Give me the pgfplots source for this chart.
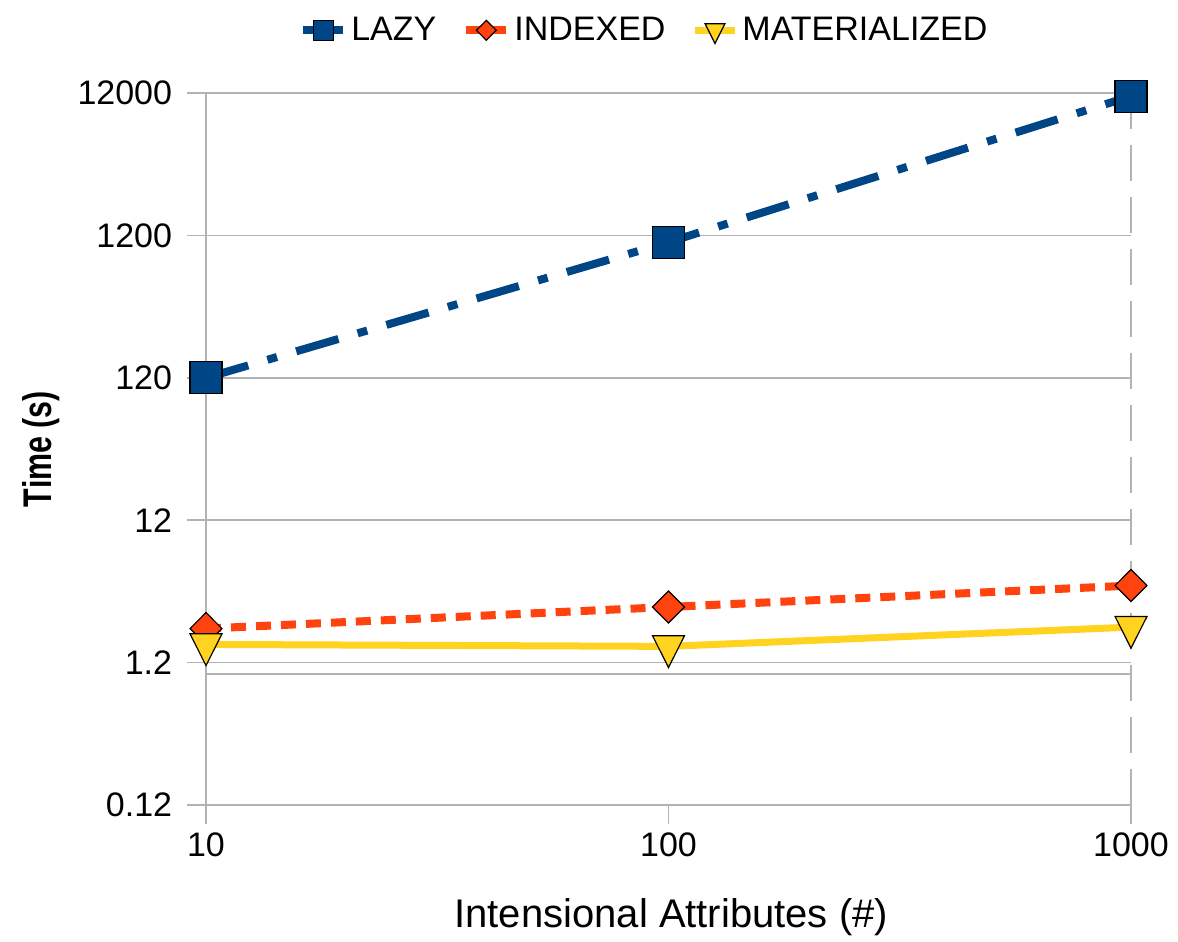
\documentclass[border=0pt]{standalone}
\usepackage{pgfplots}
\pgfplotsset{compat=1.18}
\usepackage{fontspec}
\setmainfont{Liberation Sans}
\definecolor{lazyc}{HTML}{004586}
\definecolor{indc}{HTML}{FF420E}
\definecolor{matc}{HTML}{FFD320}
\definecolor{gridc}{HTML}{B3B3B3}
\begin{document}
\begin{tikzpicture}
\useasboundingbox (-103pt,-68.5pt) rectangle (486pt,402.5pt);
\begin{axis}[
  scale only axis, width=462.5pt, height=356pt,
  at={(0,0)}, anchor=south west,
  xmode=log, ymode=log,
  xmin=10, xmax=1000, ymin=0.12, ymax=12000,
  xtick={10,100,1000}, xticklabels={10,100,1000},
  ytick={0.12,1.2,12,120,1200,12000},
  yticklabels={0.12,1.2,12,120,1200,12000},
  minor tick length=0pt,
  axis y line=left, axis x line=bottom,
  y axis line style={-, draw=gridc, line width=0.8pt},
  x axis line style={-, draw=none},
  tick align=outside,
  major tick length=9.5pt,
  tick style={draw=gridc, line width=0.8pt},
  ymajorgrids,
  major grid style={draw=gridc, line width=0.8pt},
  extra x ticks={1000}, extra x tick labels={},
  extra x tick style={grid=major, major grid style={draw=gridc, line width=0.8pt, dash pattern=on 18pt off 8pt}},
  extra y ticks={1}, extra y tick labels={},
  extra y tick style={grid=major, major tick length=0pt},
  ticklabel style={font=\fontsize{17}{20}\selectfont},
  yticklabel style={xshift=-4pt},
  xticklabel style={yshift=-1pt},
  xlabel={Intensional Attributes (\#)},
  ylabel={Time (s)},
  xlabel style={at={(axis description cs:0.503,-0.157)}, anchor=center, font=\fontsize{20}{24}\selectfont},
  ylabel style={at={(axis description cs:-0.178,0.5)}, anchor=center, xscale=0.76, font=\bfseries\fontsize{20}{24}\selectfont},
  clip=false,
  legend columns=3,
  legend style={draw=none, fill=none, at={(0.475,1.088)}, anchor=center,
    font=\fontsize{17}{20}\selectfont,
    /tikz/every even column/.append style={column sep=11pt},
    /tikz/every odd column/.append style={column sep=0pt}},
  legend image code/.code={
    \draw[#1, solid, every mark/.append style={scale=0.62}, mark repeat=2, mark phase=2]
      plot coordinates {(0pt,0pt)(10pt,0pt)(20pt,0pt)};},
]
\addplot[color=lazyc, line width=4pt, dash pattern=on 22pt off 10pt on 5pt off 10pt,
  mark=square*, mark size=8pt, mark options={solid, fill=lazyc, draw=black, line width=0.6pt}]
  coordinates {(10,120) (100,1075) (1000,11400)};
\addlegendentry{LAZY}
\addplot[color=indc, line width=4pt, dash pattern=on 7.5pt off 5pt,
  mark=diamond*, mark size=8pt, mark options={solid, xscale=1.33, fill=indc, draw=black, line width=0.6pt}]
  coordinates {(10,2.08) (100,2.95) (1000,4.17)};
\addlegendentry{INDEXED}
\addplot[color=matc, line width=3.5pt, solid,
  mark=triangle*, mark size=9.2pt, mark options={solid, rotate=180, yscale=1.15, fill=matc, draw=black, line width=0.6pt}]
  coordinates {(10,1.61) (100,1.56) (1000,2.13)};
\addlegendentry{MATERIALIZED}
\end{axis}
\end{tikzpicture}
\end{document}
